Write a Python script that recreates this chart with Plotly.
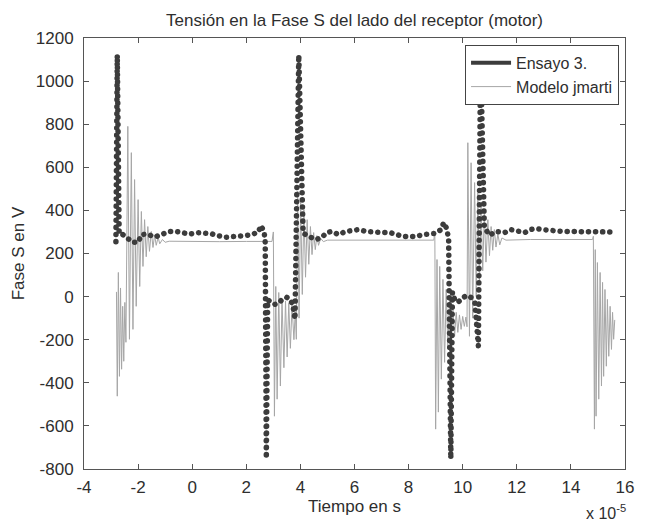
import plotly.graph_objects as go

# ---- data (time in units of 1e-5 s, voltage in V) ----
ensayo_t = [-2.82, -2.77, -2.70, -2.57, -2.42, -2.20, -2.00, -1.87, -1.65, -1.39, -1.10, -0.84,
            -0.58, -0.36, -0.10, 0.19, 0.45, 0.71, 0.93, 1.26, 1.48, 1.74, 1.99, 2.21, 2.45,
            2.54, 2.60, 2.66, 2.70, 2.74, 2.79, 2.90, 3.05, 3.20, 3.35, 3.50, 3.63, 3.72, 3.80,
            3.94, 4.10, 4.31, 4.57, 4.79, 4.97, 5.15, 5.41, 5.67, 5.96, 6.15, 6.44, 6.77, 7.07,
            7.32, 7.54, 7.80, 8.06, 8.28, 8.54, 8.72, 8.98, 9.20, 9.30, 9.40, 9.48, 9.56, 9.62,
            9.70, 9.82, 9.94, 10.13, 10.31, 10.45, 10.58, 10.66, 10.80, 10.90, 11.00, 11.22,
            11.55, 11.77, 12.03, 12.29, 12.51, 12.69, 12.95, 13.21, 13.43, 13.68, 13.94, 14.16,
            14.49, 14.71, 14.97, 15.23, 15.45]
ensayo_v = [255, 1120, 290, 288, 274, 252, 252, 288, 290, 276, 290, 302,
            302, 294, 290, 297, 297, 292, 283, 275, 278, 278, 283, 288, 300,
            330, 305, 300, 250, -750, -15, -25, -36, -30, -10, -4, -13, -40, -105,
            1120, 295, 279, 265, 274, 297, 302, 288, 302, 311, 311, 302, 297, 297,
            297, 288, 279, 279, 279, 288, 288, 293, 311, 344, 318, 270, -752, 20,
            -13, -27, -13, 5, -4, -30, -230, 1120, 320, 300, 285, 302,
            297, 311, 302, 297, 311, 316, 311, 306, 302, 302, 302, 302,
            302, 302, 297, 302, 300]

modelo_t = [-2.80, -2.77, -2.73, -2.69, -2.65, -2.61, -2.57, -2.53, -2.49, -2.45, -2.38, -2.32,
            -2.25, -2.19, -2.13, -2.07, -2.00, -1.94, -1.88, -1.82, -1.76, -1.70, -1.64, -1.58,
            -1.51, -1.45, -1.39, -1.33, -1.26, -1.20, -1.10, -1.00, -0.85, 0.0, 1.0, 2.0, 2.95,
            3.00, 3.04, 3.09, 3.14, 3.20, 3.26, 3.32, 3.39, 3.45, 3.51, 3.57, 3.63, 3.69, 3.76,
            3.81, 3.85, 3.90, 3.95, 4.01, 4.07, 4.13, 4.19, 4.25, 4.31, 4.37, 4.43, 4.49, 4.55,
            4.61, 4.67, 4.75, 4.85, 5.00, 7.00, 8.93, 8.97, 9.00, 9.05, 9.10, 9.15, 9.21, 9.27,
            9.33, 9.39, 9.45, 9.52, 9.58, 9.64, 9.70, 9.76, 9.82, 9.88, 9.94, 10.00, 10.06,
            10.12, 10.16, 10.19, 10.25, 10.31, 10.37, 10.44, 10.50, 10.56, 10.62, 10.68, 10.74,
            10.80, 10.86, 10.93, 10.99, 11.05, 11.11, 11.17, 11.23, 11.30, 11.37, 11.45, 11.60,
            12.50, 14.80, 14.83, 14.87, 14.90, 14.93, 14.98, 15.03, 15.08, 15.13, 15.17, 15.21,
            15.26, 15.31, 15.35, 15.40, 15.45, 15.50, 15.54, 15.58, 15.62]
modelo_v = [20, -462, 112, -370, 40, -337, -45, -300, -27, -212, 790, -198,
            668, -152, 543, -45, 450, 47, 395, 140, 357, 185, 325, 210,
            302, 228, 285, 238, 275, 245, 265, 252, 257, 255, 255, 256, 256,
            300, -555, 47, -476, 19, -415, -13, -330, -20, -280, -30, -240, -40, -200,
            -70, -198, 490, -100, 440, 10, 404, 90, 357, 150, 325, 195, 297, 218,
            283, 238, 270, 255, 262, 262, 262, 295, -615, 172, -536, 140, -383, 80,
            -305, 33, -231, 0, -198, -59, -184, -73, -166, -85, -152, -92, -138,
            -95, -140, 714, -184, 621, -100, 529, 0, 482, 60, 418, 120,
            390, 160, 357, 190, 325, 215, 311, 230, 290, 240, 272, 262,
            265, 265, 280, -615, 218, -555, 158, -476, 112, -415, 66, -370,
            33, -323, -13, -277, -45, -245, -73, -198, -110]

x_ticks = [-4, -2, 0, 2, 4, 6, 8, 10, 12, 14, 16]
y_ticks = [-800, -600, -400, -200, 0, 200, 400, 600, 800, 1000, 1200]

title_text = "Tensión en la Fase S del lado del receptor (motor)"
x_title = "Tiempo en s"
y_title = "Fase S en V"
exp_text = "x 10<sup>-5</sup>"

FONT = "Liberation Sans, Arial, sans-serif"
TXT = "#2e2e2e"
DOT = "#3c3c3c"
GRAY = "#a6a6a6"
FS = 17

fig = go.Figure()
fig.add_trace(go.Scatter(x=modelo_t, y=modelo_v, mode="lines", name="Modelo jmarti",
                         line=dict(color=GRAY, width=1), legendrank=2, showlegend=True))
fig.add_trace(go.Scatter(x=ensayo_t, y=ensayo_v, mode="lines", name="Ensayo 3.",
                         line=dict(color=DOT, width=5.5, dash="0.1px,7px"), showlegend=False))
fig.add_trace(go.Scatter(x=[None], y=[None], mode="lines", name="Ensayo 3.",
                         line=dict(color=DOT, width=4), legendrank=1, showlegend=True))

axis_common = dict(showgrid=False, zeroline=False, showline=True, linecolor="#555555",
                   linewidth=1, mirror="ticks", ticks="inside", ticklen=5, tickcolor="#555555",
                   tickfont=dict(family=FONT, size=FS, color=TXT))

fig.update_layout(
    width=646, height=523,
    margin=dict(l=84, r=18, t=38, b=53),
    paper_bgcolor="white", plot_bgcolor="white",
    font=dict(family=FONT, size=FS, color=TXT),
    title=dict(text=title_text, x=0.5, xref="paper", xanchor="center",
               y=1 - 20 / 523, yref="container", yanchor="middle",
               font=dict(family=FONT, size=FS, color=TXT)),
    xaxis=dict(range=[-4, 16], tickvals=x_ticks, ticktext=[str(v) for v in x_ticks],
               title=dict(text=x_title, standoff=2, font=dict(family=FONT, size=FS, color=TXT)),
               ticklabelstandoff=3, **axis_common),
    yaxis=dict(range=[-800, 1200], tickvals=y_ticks, ticktext=[str(v) for v in y_ticks],
               title=dict(text=y_title, standoff=6, font=dict(family=FONT, size=FS, color=TXT)),
               ticklabelstandoff=6, **axis_common),
    legend=dict(x=0.989, y=0.984, xanchor="right", yanchor="top", bgcolor="white",
                bordercolor="#444444", borderwidth=1, itemwidth=40,
                font=dict(family=FONT, size=16, color=TXT), tracegroupgap=0),
    annotations=[dict(text=exp_text, xref="paper", yref="paper", x=0.965, y=-0.1,
                      xanchor="center", yanchor="middle", showarrow=False,
                      font=dict(family=FONT, size=16, color=TXT))],
)

post = ("var s=document.createElement('style');"
        "s.textContent='.scatterlayer .js-line{stroke-linecap:round}';"
        "document.head.appendChild(s);")
fig.write_html("out.html", post_script=post)
